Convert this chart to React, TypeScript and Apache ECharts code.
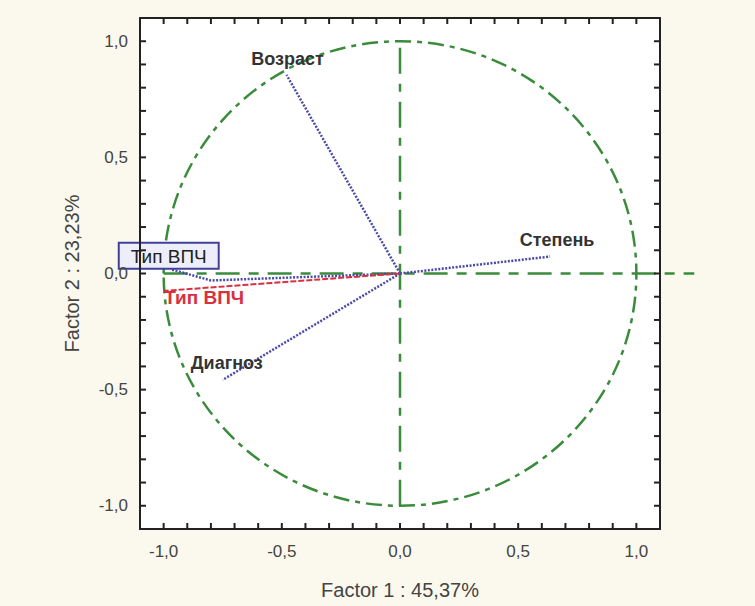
import React, { useEffect, useRef } from "react";
import * as echarts from "echarts";

// Loadings (Factor 1, Factor 2)
const varNames = ["Возраст", "Степень", "Диагноз", "Тип ВПЧ", "Тип ВПЧ"];
const factor1 = [-0.48, 0.635, -0.75, -0.97, -1.0];
const factor2 = [0.855, 0.073, -0.458, 0.018, -0.075];
// bend point of the blue "Тип ВПЧ" trace
const bendBlue = [-0.8, -0.03];

const xTitle = "Factor 1 : 45,37%";
const yTitle = "Factor 2 : 23,23%";
const axisMin = -1.1;
const axisMax = 1.1;
const tickStep = 0.1;
// frame tick positions
const frameTicks = [
  -1.0, -0.9, -0.8, -0.7, -0.6, -0.5, -0.4, -0.3, -0.2, -0.1, 0.0,
  0.1, 0.2, 0.3, 0.4, 0.5, 0.6, 0.7, 0.8, 0.9, 1.0,
];

// reference lines: [x1, y1, x2, y2]
const hLine = [-1.0, 0, 1.245, 0];
const vLine = [0, -1.0, 0, 1.0];

const FONT = "'Liberation Sans', Arial, sans-serif";
const GREEN = "#3a8c3c";
const BLUE = "#4a4aa8";
const RED = "#d8303f";
const FRAME = "#222222";

function fmt(v: number) {
  const r = Math.round(v * 10) / 10;
  if (Math.abs(r * 2 - Math.round(r * 2)) > 1e-6) return "";
  return r.toFixed(1).replace(".", ",").replace("-0,0", "0,0");
}

export default function App() {
  const ref = useRef<HTMLDivElement>(null);
  useEffect(() => {
    if (!ref.current) return;
    const chart = echarts.init(ref.current, null, { renderer: "svg" });

    const axisCommon = {
      type: "value",
      min: axisMin,
      max: axisMax,
      interval: tickStep,
      z: 10,
      splitLine: { show: false },
      axisLine: { show: true, onZero: false, lineStyle: { color: FRAME, width: 2 } },
      axisTick: { show: false },
    };

    const labelBase = {
      show: true,
      fontFamily: FONT,
      fontSize: 18,
      fontWeight: "bold",
      color: "#333",
    };

    const vectorSeries: any[] = [];
    const labelCfg: any[] = [
      { position: "top", distance: 6, offset: [1, 0] },
      { position: "top", distance: 7, offset: [7, 0] },
      { position: "top", distance: 7, offset: [4, 0] },
      {
        position: "top",
        distance: 1,
        offset: [-2, 0],
        fontWeight: "normal",
        fontSize: 19,
        color: "#222",
        backgroundColor: "#eeeefa",
        borderColor: "#40409a",
        borderWidth: 2,
        padding: [3, 11, 2, 11],
      },
      { position: "right", distance: 0, offset: [0, 7], color: RED, fontSize: 19 },
    ];
    for (let i = 0; i < varNames.length; i++) {
      const isRed = i === 4;
      const pts: any[] = [[0, 0]];
      if (i === 3) pts.push(bendBlue);
      pts.push({
        value: [factor1[i], factor2[i]],
        label: { ...labelBase, ...labelCfg[i], formatter: varNames[i] },
      });
      vectorSeries.push({
        type: "line",
        name: varNames[i] + i,
        data: pts,
        symbol: "circle",
        symbolSize: 1,
        showSymbol: true,
        itemStyle: { color: "rgba(0,0,0,0)" },
        lineStyle: { color: isRed ? RED : BLUE, width: isRed ? 2 : 2.5, type: isRed ? [6, 2] : [2, 1.5] },
        label: { show: false },
        z: 5,
      });
    }

    const refLine = (name: string, seg: number[], dash: number[]) => ({
      type: "custom",
      name,
      data: [seg],
      clip: false,
      renderItem: (_p: any, api: any) => {
        const a = api.coord([api.value(0), api.value(1)]);
        const b = api.coord([api.value(2), api.value(3)]);
        return {
          type: "line",
          shape: { x1: a[0], y1: a[1], x2: b[0], y2: b[1] },
          style: { stroke: GREEN, lineWidth: 2.5, lineDash: dash, fill: "none" },
        };
      },
      z: 3,
    });

    // inward ticks on the four frame sides, as tiny rect symbols
    const TL = 6;
    const tickSide = (name: string, pts: number[][], size: number[], offset: number[]) => ({
      type: "scatter",
      name,
      data: pts,
      symbol: "rect",
      symbolSize: size,
      symbolOffset: offset,
      clip: false,
      silent: true,
      itemStyle: { color: FRAME, opacity: 1 },
      z: 11,
    });
    const bottomPts = frameTicks.map((v) => [v, axisMin]);
    const topPts = frameTicks.map((v) => [v, axisMax]);
    const leftPts = frameTicks.map((v) => [axisMin, v]);
    const rightPts = frameTicks.map((v) => [axisMax, v]);

    chart.setOption({
      animation: false,
      backgroundColor: "#fbf9ee",
      textStyle: { fontFamily: FONT },
      grid: {
        left: 140,
        right: 95,
        top: 18,
        bottom: 77,
        show: false,
      },
      xAxis: [
        {
          ...axisCommon,
          position: "bottom",
          name: xTitle,
          nameLocation: "middle",
          nameGap: 51,
          nameTextStyle: { fontFamily: FONT, fontSize: 20, color: "#444" },
          axisLabel: { interval: 0, margin: 14, fontFamily: FONT, fontSize: 17, color: "#444", formatter: fmt },
        },
        { ...axisCommon, position: "top", axisLabel: { show: false } },
      ],
      yAxis: [
        {
          ...axisCommon,
          position: "left",
          name: yTitle,
          nameLocation: "middle",
          nameGap: 58,
          nameRotate: 90,
          nameTextStyle: { fontFamily: FONT, fontSize: 20, color: "#444" },
          axisLabel: { interval: 0, margin: 12, fontFamily: FONT, fontSize: 17, color: "#444", formatter: fmt },
        },
        { ...axisCommon, position: "right", axisLabel: { show: false } },
      ],
      series: [
        {
          type: "custom",
          name: "plotBackground",
          data: [[axisMin, axisMax, axisMax, axisMin]],
          silent: true,
          renderItem: (_p: any, api: any) => {
            const a = api.coord([api.value(0), api.value(1)]);
            const b = api.coord([api.value(2), api.value(3)]);
            return {
              type: "rect",
              shape: { x: a[0], y: a[1], width: b[0] - a[0], height: b[1] - a[1] },
              style: { fill: "#ffffff" },
            };
          },
          z: 0,
        },
        {
          type: "custom",
          name: "circle",
          data: [[0, 0]],
          renderItem: (_p: any, api: any) => {
            const c = api.coord([0, 0]);
            const e = api.coord([1, 1]);
            return {
              type: "ellipse",
              shape: { cx: c[0], cy: c[1], rx: e[0] - c[0], ry: c[1] - e[1] },
              style: { fill: "none", stroke: GREEN, lineWidth: 2.5, lineDash: [16, 6, 5, 6] },
            };
          },
          z: 2,
        },
        refLine("h", hLine, [24, 9, 10, 9]),
        refLine("v", vLine, [26, 10, 8, 10]),
        ...vectorSeries,
        tickSide("tb", bottomPts, [2, TL], [0, -TL / 2]),
        tickSide("tt", topPts, [2, TL], [0, TL / 2]),
        tickSide("tl", leftPts, [TL, 2], [TL / 2, 0]),
        tickSide("tr", rightPts, [TL, 2], [-TL / 2, 0]),
      ],
    });
    return () => chart.dispose();
  }, []);
  return (
    <div
      ref={ref}
      style={{ position: "fixed", left: 0, top: 0, width: 755, height: 606 }}
    />
  );
}
